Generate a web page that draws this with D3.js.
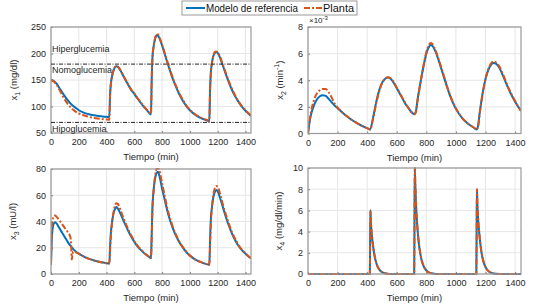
<!DOCTYPE html>
<html lang="es">
<head>
<meta charset="UTF-8">
<title>Modelo de referencia vs Planta</title>
<style>
  body { margin: 0; background: #fff; }
  svg { font-family: "Liberation Sans", Arial, sans-serif; }
  .tick text { fill: #262626; font-size: 9px; }
  .lab { fill: #262626; font-size: 9.5px; font-weight: normal; }
</style>
</head>
<body>
<svg id="chart" width="541" height="304"></svg>
<script src="https://cdn.jsdelivr.net/npm/d3@7"></script>
<script>
// ---- datos ----
var xTicks = [0, 200, 400, 600, 800, 1000, 1200, 1400];

// x1 (mg/dl)
var t1Ref = [0,20,40,60,80,100,120,140,160,180,200,240,280,320,360,400,420,425,430,440,450,460,470,480,500,520,540,560,580,600,620,640,660,680,700,720,725,730,740,750,760,765,770,780,800,820,840,860,880,900,920,940,960,980,1000,1040,1080,1120,1140,1145,1150,1160,1170,1180,1190,1200,1220,1240,1260,1280,1300,1320,1340,1360,1380,1400,1420,1440];
var x1Ref = [150,148,143,135,127,119,112,106,101,97,93,88,85,83,81.5,80.5,80,120,140,158,168,174,176,175,168,158,148,139,130,124,116,109,102,96,90,85,150,190,215,228,234,235,234,229,215,198,181,165,150,137,125,115,106,99,93,84,78,74,72,130,160,184,196,201,203,201,190,175,160,146,133,122,113,105,98,92,87,82];
var x1Pla = [150,147,141,132,122,113,105,99,94,90,87,83,80,78,76.5,75.5,75,118,139,157,168,174,177,176,169,159,149,140,131,125,117,110,103,97,91,86,148,190,216,230,236,237,236,231,217,200,183,167,152,139,127,117,108,100,94,85,79,75,73,128,159,184,197,203,204,202,192,177,162,148,135,124,114,106,99,93,88,83];
var hiper = 180, hipo = 70;
var zonas = ["Hiperglucemia", "Nomoglucemia", "Hipoglucemia"];
var zonasY = [210, 169, 58];

// x2 (x 10^-3 min^-1)
var t2 = [0,10,20,40,60,80,100,120,140,160,180,200,240,280,320,360,400,420,440,460,480,500,520,540,560,580,600,620,640,660,680,700,720,730,740,760,780,800,820,830,840,860,880,900,920,940,960,980,1000,1040,1080,1120,1140,1150,1160,1180,1200,1220,1240,1255,1270,1290,1320,1350,1380,1410,1440];
var x2Ref = [0,0.8,1.4,2.1,2.55,2.8,2.88,2.82,2.6,2.35,2.1,1.9,1.5,1.15,0.85,0.6,0.4,0.3,1.2,2.3,3.2,3.8,4.1,4.2,4.1,3.8,3.4,3.0,2.6,2.2,1.9,1.6,1.45,1.7,2.5,3.8,5.0,6.0,6.55,6.65,6.6,6.2,5.6,4.9,4.2,3.5,2.85,2.3,1.85,1.2,0.75,0.45,0.3,0.6,1.5,3.0,4.1,4.8,5.2,5.3,5.25,5.0,4.3,3.5,2.8,2.2,1.7];
var x2Pla = [0,0.9,1.6,2.5,3.0,3.25,3.35,3.35,3.1,2.7,2.25,1.95,1.5,1.15,0.85,0.6,0.4,0.3,1.1,2.2,3.1,3.75,4.1,4.22,4.15,3.85,3.45,3.05,2.65,2.25,1.9,1.6,1.45,1.6,2.4,3.8,5.05,6.1,6.7,6.8,6.75,6.3,5.7,5.0,4.3,3.55,2.9,2.35,1.9,1.2,0.75,0.45,0.3,0.5,1.4,2.9,4.1,4.85,5.3,5.4,5.35,5.1,4.4,3.55,2.85,2.25,1.7];

// x3 (mU/l)
var t3 = [0,5,10,20,30,40,60,80,100,120,140,145,150,155,160,180,200,240,280,320,360,400,420,425,430,440,450,460,470,480,500,520,540,560,580,600,620,640,660,680,700,720,725,730,740,750,760,770,780,800,820,840,860,880,900,920,940,960,980,1000,1040,1080,1120,1140,1145,1150,1160,1170,1180,1190,1200,1220,1240,1260,1280,1300,1320,1340,1360,1380,1400,1420,1440];
var x3Ref = [7,25,33,38.5,39.5,38.5,35,31.5,28,24.5,21.5,21,20.2,19.6,19,17,15.5,13,11.3,10,9,8.2,8,20,30,40,46,49.5,51,50,46,41,36.5,32,28,24.5,21.5,19,17,15,13.5,12,30,50,65,73,77,78,75,65,56,47,40,34,29,25,21.5,18.5,16,14,11,9,7.5,7,25,40,52,59,62.5,64,63,57,50,43,37,31.5,27,23,20,17.5,15.5,13.5,12];
var x3Pla = [8,30,40,44,44.5,43.5,41,38,35,32,28,22,11,15,17,16.5,15.5,13,11.3,10,9,8.2,7.8,17,27,39,47,52,54,53.5,49,43,38,33,29,25,22,19.5,17.2,15.2,13.6,12,26,47,65,75,80,81,79,69,59,49,41.5,35,30,25.5,22,19,16.3,14.2,11,9,7.5,6.8,20,36,52,61,65.5,67,66.5,60,52,45,38.5,32.5,28,24,20.5,18,15.8,13.8,12];

// x4 (mg/dl/min)
var t4 = [0,418,420,422,425,430,440,450,460,470,480,500,520,550,718,720,722,725,730,740,750,760,770,780,800,820,850,880,1138,1140,1142,1145,1150,1160,1170,1180,1190,1200,1220,1240,1270,1300,1440];
var x4Ref = [0,0,3,6,4.9,3.9,2.6,1.7,1.1,0.7,0.45,0.18,0.07,0,0,5,10,8.6,6.6,4.3,2.8,1.85,1.2,0.8,0.33,0.13,0.03,0,0,4,8,6.6,5.2,3.5,2.3,1.5,1.0,0.65,0.27,0.1,0.02,0,0];
var x4Pla = [0,0,3,6,5.0,4.0,2.7,1.8,1.15,0.75,0.48,0.19,0.07,0,0,5,10,8.7,6.8,4.4,2.9,1.9,1.25,0.82,0.34,0.13,0.03,0,0,4,8,6.7,5.3,3.6,2.35,1.55,1.0,0.66,0.27,0.1,0.02,0,0];

// ---- dibujo ----
var svg = d3.select("#chart");
var azul = "#0072BD", naranja = "#D95319";

function panel(box, yDom, yTicks, tRef, yRef, tPla, yPla, ylabel, sub, unit, yOff) {
  var x = d3.scaleLinear().domain([0, 1440]).range([box.l, box.r]);
  var y = d3.scaleLinear().domain(yDom).range([box.b, box.t]);
  var g = svg.append("g");

  // rejilla
  g.selectAll("line.gx").data(xTicks).enter().append("line")
    .attr("x1", d => x(d)).attr("x2", d => x(d)).attr("y1", box.t).attr("y2", box.b)
    .attr("stroke", "#e6e6e6").attr("stroke-width", 1);
  g.selectAll("line.gy").data(yTicks).enter().append("line")
    .attr("x1", box.l).attr("x2", box.r).attr("y1", d => y(d)).attr("y2", d => y(d))
    .attr("stroke", "#e6e6e6").attr("stroke-width", 1);

  // ejes
  var ax = g.append("g").attr("transform", "translate(0," + box.b + ")")
    .call(d3.axisBottom(x).tickValues(xTicks).tickFormat(d3.format("d"))
      .tickSizeInner(-2).tickSizeOuter(0).tickPadding(6));
  var ay = g.append("g").attr("transform", "translate(" + box.l + ",0)")
    .call(d3.axisLeft(y).tickValues(yTicks).tickFormat(d3.format("d"))
      .tickSizeInner(-2).tickSizeOuter(0).tickPadding(5));
  [ax, ay].forEach(function (a) {
    a.select(".domain").remove();
    a.selectAll(".tick line").attr("stroke", "#777");
  });

  var clip = "clip" + box.l + "_" + box.t;
  svg.append("clipPath").attr("id", clip).append("rect")
    .attr("x", box.l).attr("y", box.t - 1).attr("width", box.r - box.l).attr("height", box.b - box.t + 2);

  var line = d3.line().x(d => x(d[0])).y(d => y(d[1])).curve(d3.curveMonotoneX);
  g.append("path").datum(d3.zip(tRef, yRef))
    .attr("clip-path", "url(#" + clip + ")")
    .attr("d", line).attr("fill", "none").attr("stroke", azul).attr("stroke-width", 2);
  g.append("path").datum(d3.zip(tPla, yPla))
    .attr("clip-path", "url(#" + clip + ")")
    .attr("d", line).attr("fill", "none").attr("stroke", naranja).attr("stroke-width", 2)
    .attr("stroke-dasharray", "6,2,2,2");

  // marco
  g.append("rect").attr("x", box.l).attr("y", box.t)
    .attr("width", box.r - box.l).attr("height", box.b - box.t)
    .attr("fill", "none").attr("stroke", "#999").attr("stroke-width", 1.2);

  // etiquetas
  g.append("text").attr("class", "lab").attr("text-anchor", "middle")
    .attr("x", (box.l + box.r) / 2).attr("y", box.b + 27).text("Tiempo (min)");
  var yl = g.append("text").attr("class", "lab ylab").attr("text-anchor", "middle")
    .attr("transform", "translate(" + (box.l - yOff) + "," + ((box.t + box.b) / 2) + ") rotate(-90)");
  yl.append("tspan").text(ylabel);
  yl.append("tspan").attr("dy", 3).attr("font-size", 7).text(sub);
  yl.append("tspan").attr("dy", -3).text(" " + unit);
  return { x: x, y: y, g: g, ylab: yl };
}

var p1 = panel({ l: 51, r: 251, t: 27, b: 133 }, [50, 250], [50, 100, 150, 200, 250],
  t1Ref, x1Ref, t1Ref, x1Pla, "x", "1", "(mg/dl)", 34);
[hiper, hipo].forEach(function (v) {
  p1.g.append("line").attr("x1", p1.x(0)).attr("x2", p1.x(1440))
    .attr("y1", p1.y(v)).attr("y2", p1.y(v))
    .attr("stroke", "#222").attr("stroke-width", 1).attr("stroke-dasharray", "4,1.5,1,1.5");
});
zonas.forEach(function (z, i) {
  p1.g.append("text").attr("x", p1.x(0) + 1).attr("y", p1.y(zonasY[i]) + 3.5)
    .attr("font-size", 9).attr("fill", "#262626").text(z);
});

var p2 = panel({ l: 308, r: 521, t: 27, b: 133.5 }, [0, 8], [0, 2, 4, 6, 8],
  t2, x2Ref, t2, x2Pla, "x", "2", "(min", 25);
p2.ylab.append("tspan").attr("dy", -4).attr("font-size", 7).text("-1");
p2.ylab.append("tspan").attr("dy", 4).text(")");
var ex = p2.g.append("text").attr("x", 309).attr("y", 23).attr("font-size", 8).attr("fill", "#262626");
ex.append("tspan").text("\u00d710");
ex.append("tspan").attr("dy", -3).attr("font-size", 6).text("-3");

panel({ l: 51, r: 251, t: 169, b: 274 }, [0, 80], [0, 20, 40, 60, 80],
  t3, x3Ref, t3, x3Pla, "x", "3", "(mU/l)", 35);
panel({ l: 308, r: 521, t: 168, b: 274 }, [0, 10], [0, 2, 4, 6, 8, 10],
  t4, x4Ref, t4, x4Pla, "x", "4", "(mg/dl/min)", 26);

// leyenda
var lg = svg.append("g");
lg.append("rect").attr("x", 182).attr("y", 1).attr("width", 175).attr("height", 14)
  .attr("fill", "#fff").attr("stroke", "#999").attr("stroke-width", 1);
lg.append("line").attr("x1", 186).attr("x2", 205).attr("y1", 8).attr("y2", 8)
  .attr("stroke", azul).attr("stroke-width", 2);
lg.append("text").attr("x", 206).attr("y", 11.5).attr("font-size", 10).attr("fill", "#111")
  .attr("textLength", 92).attr("lengthAdjust", "spacingAndGlyphs").text("Modelo de referencia");
lg.append("line").attr("x1", 304).attr("x2", 322).attr("y1", 8).attr("y2", 8)
  .attr("stroke", naranja).attr("stroke-width", 2).attr("stroke-dasharray", "6,2,2,2");
lg.append("text").attr("x", 323).attr("y", 11.5).attr("font-size", 10).attr("fill", "#111")
  .attr("textLength", 31).attr("lengthAdjust", "spacingAndGlyphs").text("Planta");
</script>
</body>
</html>
